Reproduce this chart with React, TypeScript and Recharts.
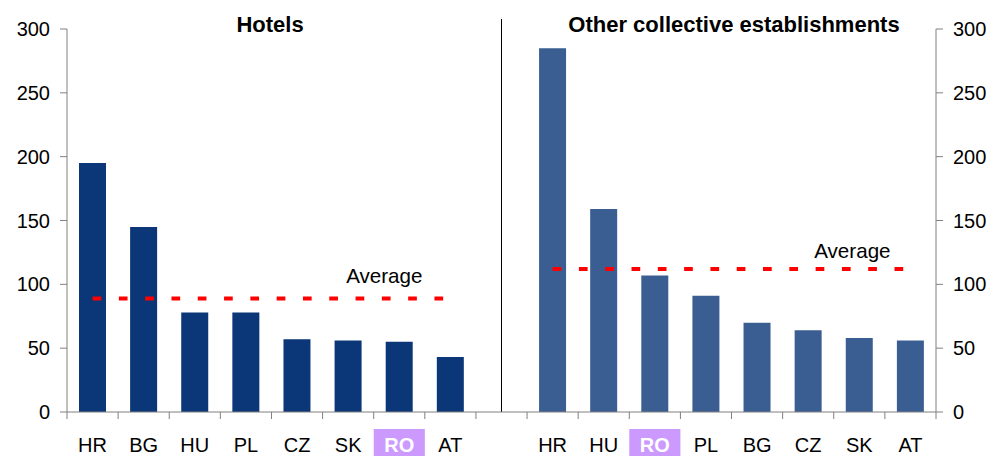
import React from 'react';
import { ComposedChart, Bar, Line, XAxis, YAxis, Cell } from 'recharts';

const hotelCountries = ['HR', 'BG', 'HU', 'PL', 'CZ', 'SK', 'RO', 'AT'];
const hotelValues = [195, 145, 78, 78, 57, 56, 55, 43];
const hotelAverage = 89;

const otherCountries = ['HR', 'HU', 'RO', 'PL', 'BG', 'CZ', 'SK', 'AT'];
const otherValues = [285, 159, 107, 91, 70, 64, 58, 56];
const otherAverage = 112;

const yTicks = [0, 50, 100, 150, 200, 250, 300];
const highlight = 'RO';

type Row = {
  key: string;
  label: string;
  group: 'h' | 'o' | 'gap';
  value: number | null;
  avgH: number | null;
  avgO: number | null;
};

const data: Row[] = [
  ...hotelCountries.map((c, i) => ({
    key: 'h-' + c,
    label: c,
    group: 'h' as const,
    value: hotelValues[i],
    avgH: hotelAverage,
    avgO: null,
  })),
  { key: 'gap', label: '', group: 'gap' as const, value: null, avgH: null, avgO: null },
  ...otherCountries.map((c, i) => ({
    key: 'o-' + c,
    label: c,
    group: 'o' as const,
    value: otherValues[i],
    avgH: null,
    avgO: otherAverage,
  })),
];

const W = 992;
const H = 456;
const LEFT_W = 67;
const RIGHT_W = 56;
const TOP = 29;
const XAXIS_H = 44;
const AXIS_Y = H - XAXIS_H;
const PLOT_W = W - LEFT_W - RIGHT_W;
const BAND = PLOT_W / data.length;
const FONT = 'Arial, "Liberation Sans", sans-serif';

const XTick = (props: any) => {
  const { x, index } = props;
  const row = data[index];
  const label = row ? row.label : '';
  const isHi = label === highlight;
  const left = x - BAND / 2;
  const y = AXIS_Y;
  return (
    <g>
      <line x1={left} y1={y} x2={left} y2={y + 7} stroke="#808080" strokeWidth={1} />
      {index === data.length - 1 && (
        <line x1={x + BAND / 2} y1={y} x2={x + BAND / 2} y2={y + 7} stroke="#808080" strokeWidth={1} />
      )}
      {isHi && <rect x={left} y={y + 17} width={BAND} height={40} fill="#cc99ff" />}
      <text
        x={x}
        y={y + 40}
        textAnchor="middle"
        fontFamily={FONT}
        fontSize={20}
        fontWeight={isHi ? 'bold' : 'normal'}
        fill={isHi ? '#ffffff' : '#000000'}
      >
        {label}
      </text>
    </g>
  );
};

const avgLabel = (idx: number, dx: number, dy: number) => (props: any) => {
  const { x, y, index } = props;
  if (index !== idx) return null;
  return (
    <text x={x + dx} y={y + dy} fontFamily={FONT} fontSize={20.6} fill="#000000" textAnchor="start">
      Average
    </text>
  );
};

export default function App() {
  const sepX = LEFT_W + BAND * 8.5;
  return (
    <div style={{ position: 'absolute', left: 0, top: 0, width: W, height: H, background: '#fff' }}>
      <ComposedChart
        width={W}
        height={H}
        data={data}
        margin={{ top: TOP, right: 0, bottom: 0, left: 0 }}
        barCategoryGap={0}
      >
        <XAxis
          dataKey="key"
          xAxisId="x"
          interval={0}
          tick={<XTick />}
          tickLine={false}
          axisLine={{ stroke: '#808080' }}
          height={XAXIS_H}
        />
        <YAxis
          yAxisId="left"
          orientation="left"
          domain={[0, 300]}
          ticks={yTicks}
          width={LEFT_W}
          tickSize={7}
          tickMargin={10}
          axisLine={{ stroke: '#808080' }}
          tickLine={{ stroke: '#808080' }}
          tick={{ fill: '#000', fontSize: 20, fontFamily: FONT }}
        />
        <YAxis
          yAxisId="right"
          orientation="right"
          domain={[0, 300]}
          ticks={yTicks}
          width={RIGHT_W}
          tickSize={7}
          tickMargin={10}
          axisLine={{ stroke: '#808080' }}
          tickLine={{ stroke: '#808080' }}
          tick={{ fill: '#000', fontSize: 20, fontFamily: FONT, textAnchor: 'start' }}
        />
        <Bar dataKey="value" xAxisId="x" yAxisId="left" barSize={27} isAnimationActive={false}>
          {data.map((d) => (
            <Cell key={d.key} fill={d.group === 'h' ? '#0b3677' : '#3a5e91'} />
          ))}
        </Bar>
        <Line
          dataKey="avgH"
          xAxisId="x"
          yAxisId="left"
          stroke="#ff0000"
          strokeWidth={4}
          strokeDasharray="8.7 17.6"
          dot={false}
          activeDot={false}
          connectNulls={false}
          isAnimationActive={false}
          label={avgLabel(5, -2, -15)}
        />
        <Line
          dataKey="avgO"
          xAxisId="x"
          yAxisId="right"
          stroke="#ff0000"
          strokeWidth={4}
          strokeDasharray="8.7 17.6"
          dot={false}
          activeDot={false}
          connectNulls={false}
          isAnimationActive={false}
          label={avgLabel(14, 6, -11)}
        />
        <line x1={sepX} y1={19} x2={sepX} y2={AXIS_Y} stroke="#000" strokeWidth={1} />
        <text x={270} y={32} textAnchor="middle" fontFamily={FONT} fontSize={22} fontWeight="bold" fill="#000">
          Hotels
        </text>
        <text x={734} y={32} textAnchor="middle" fontFamily={FONT} fontSize={22} fontWeight="bold" fill="#000">
          Other collective establishments
        </text>
      </ComposedChart>
    </div>
  );
}
